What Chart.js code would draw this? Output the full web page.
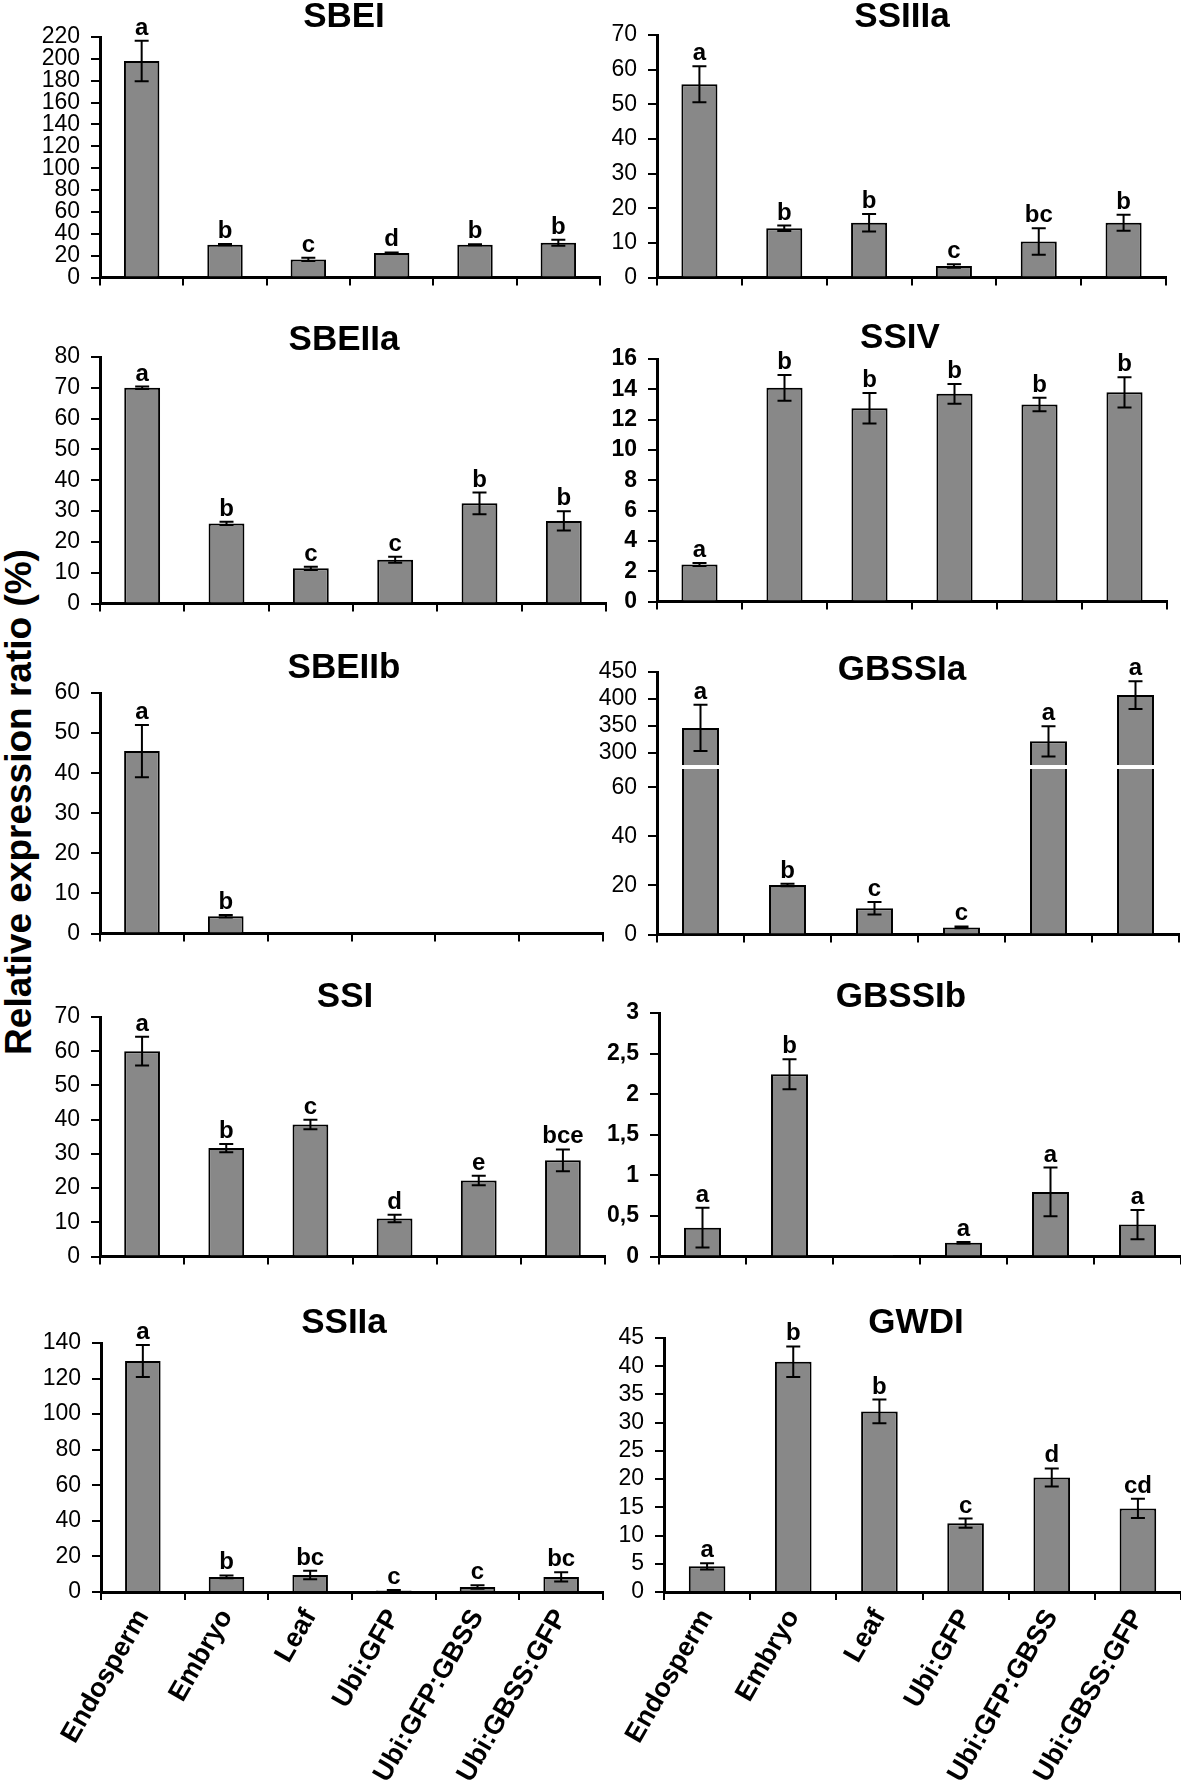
<!DOCTYPE html>
<html>
<head>
<meta charset="utf-8">
<script src="https://cdn.jsdelivr.net/npm/chart.js@4.4.1/dist/chart.umd.min.js"></script>
<style>
  html, body { margin: 0; padding: 0; background: #fff; overflow: hidden; }
  #page { position: relative; width: 1181px; height: 1780px; }
  #page canvas { position: absolute; }
  #ytitle {
    position: absolute; left: 18px; top: 802px;
    font: bold 37px "Liberation Sans", Arial, sans-serif;
    line-height: 1; white-space: nowrap; color: #000;
    transform: translate(-50%, -50%) rotate(-90deg);
  }
</style>
</head>
<body>
<div id="page">
  <div id="ytitle">Relative expression ratio (%)</div>
</div>
<script>
const categories = ['Endosperm', 'Embryo', 'Leaf', 'Ubi:GFP', 'Ubi:GFP:GBSS', 'Ubi:GBSS:GFP'];

// values, +/- error and significance letters
const sbeiValues = [198, 30, 16.5, 22.4, 30, 31.8];
const sbeiErrors = [18.5, 0.6, 1.5, 0.5, 0.5, 2.8];
const sbeiLetters = ['a', 'b', 'c', 'd', 'b', 'b'];

const ssiiiaValues = [55.8, 14.2, 15.8, 3.3, 10.4, 15.8];
const ssiiiaErrors = [5.2, 0.8, 2.5, 0.5, 3.8, 2.3];
const ssiiiaLetters = ['a', 'b', 'b', 'c', 'bc', 'b'];

const sbeiiaValues = [70.0, 26.0, 11.4, 14.2, 32.5, 26.8];
const sbeiiaErrors = [0.4, 0.5, 0.5, 1.0, 3.5, 3.1];
const sbeiiaLetters = ['a', 'b', 'c', 'c', 'b', 'b'];

const ssivValues = [2.44, 14.1, 12.75, 13.7, 13.0, 13.8];
const ssivErrors = [0.1, 0.85, 1.0, 0.65, 0.45, 1.0];
const ssivLetters = ['a', 'b', 'b', 'b', 'b', 'b'];

const sbeiibValues = [45.5, 4.3, null, null, null, null];
const sbeiibErrors = [6.5, 0.3, 0, 0, 0, 0];
const sbeiibLetters = ['a', 'b', '', '', '', ''];

const gbssiaValues = [346, 20.2, 10.7, 2.9, 321, 407];
const gbssiaErrors = [43, 0.5, 2.5, 0.4, 28, 26];
const gbssiaLetters = ['a', 'b', 'c', 'c', 'a', 'a'];

const ssiValues = [60.0, 31.7, 38.6, 11.1, 22.2, 28.1];
const ssiErrors = [4.2, 1.2, 1.4, 1.1, 1.4, 3.2];
const ssiLetters = ['a', 'b', 'c', 'd', 'e', 'bce'];

const gbssibValues = [0.355, 2.245, 0.005, 0.17, 0.795, 0.393];
const gbssibErrors = [0.245, 0.185, 0, 0.01, 0.3, 0.18];
const gbssibLetters = ['a', 'b', '', 'a', 'a', 'a'];

const ssiiaValues = [129.9, 8.5, 9.6, 0.8, 2.8, 8.5];
const ssiiaErrors = [9, 0.8, 2.4, 0.3, 1.0, 2.6];
const ssiiaLetters = ['a', 'b', 'bc', 'c', 'c', 'bc'];

const gwdiValues = [4.55, 40.8, 32.0, 12.2, 20.3, 14.8];
const gwdiErrors = [0.55, 2.7, 2.1, 0.8, 1.6, 1.7];
const gwdiLetters = ['a', 'b', 'b', 'c', 'd', 'cd'];

const FONT = '"Liberation Sans", Arial, Helvetica, sans-serif';
const BAR = '#888888';

// error bars, letters and panel title
const barMarks = {
  id: 'barMarks',
  afterDatasetsDraw(chart, args, opts) {
    const ctx = chart.ctx;
    ctx.save();
    chart.data.datasets.forEach((ds, i) => {
      const meta = chart.getDatasetMeta(i);
      const ys = meta.yScale;
      meta.data.forEach((bar, j) => {
        const v = ds.data[j];
        if (v == null || v > ys.max || v < ys.min) return;
        const e = ds.errors[j] || 0;
        let top = ys.getPixelForValue(v);
        if (e > 0) {
          const y1 = ys.getPixelForValue(v + e);
          const y2 = ys.getPixelForValue(Math.max(v - e, 0));
          ctx.strokeStyle = '#000';
          ctx.lineWidth = 2;
          ctx.beginPath();
          ctx.moveTo(bar.x, y1); ctx.lineTo(bar.x, y2);
          ctx.moveTo(bar.x - 7, y1); ctx.lineTo(bar.x + 7, y1);
          ctx.moveTo(bar.x - 7, y2); ctx.lineTo(bar.x + 7, y2);
          ctx.stroke();
          top = Math.min(top, y1);
        }
        const t = ds.letters[j];
        if (t) {
          ctx.fillStyle = '#000';
          ctx.font = 'bold 24px ' + FONT;
          ctx.textAlign = 'center';
          ctx.textBaseline = 'alphabetic';
          ctx.fillText(t, bar.x, top - 6);
        }
      });
    });
    ctx.fillStyle = '#000';
    ctx.font = 'bold 35px ' + FONT;
    ctx.textAlign = 'center';
    ctx.textBaseline = 'alphabetic';
    ctx.fillText(opts.text, opts.x, opts.y);
    ctx.restore();
  }
};

const LEFT = {x: 30, w: 590};
const RIGHT = {x: 590, w: 591};

const panels = [
  {title: 'SBEI', values: sbeiValues, errors: sbeiErrors, letters: sbeiLetters, max: 220, step: 20,
   col: LEFT, axisX: 100, axisEnd: 600, yTop: 37, yZero: 286, cTop: 0, titleX: 344, titleBase: 27},
  {title: 'SSIIIa', values: ssiiiaValues, errors: ssiiiaErrors, letters: ssiiiaLetters, max: 70, step: 10,
   col: RIGHT, axisX: 657, axisEnd: 1166, yTop: 35, yZero: 286, cTop: 0, titleX: 902, titleBase: 27},
  {title: 'SBEIIa', values: sbeiiaValues, errors: sbeiiaErrors, letters: sbeiiaLetters, max: 80, step: 10,
   col: LEFT, axisX: 100, axisEnd: 606, yTop: 357, yZero: 612, cTop: 305, titleX: 344, titleBase: 350},
  {title: 'SSIV', values: ssivValues, errors: ssivErrors, letters: ssivLetters, max: 16, step: 2, boldTicks: true,
   col: RIGHT, axisX: 657, axisEnd: 1167, yTop: 359, yZero: 610, cTop: 305, titleX: 900, titleBase: 348},
  {title: 'SBEIIb', values: sbeiibValues, errors: sbeiibErrors, letters: sbeiibLetters, max: 60, step: 10,
   col: LEFT, axisX: 100, axisEnd: 603, yTop: 693, yZero: 942, cTop: 630, titleX: 344, titleBase: 678},
  {title: 'GBSSIa', values: gbssiaValues, errors: gbssiaErrors, letters: gbssiaLetters,
   broken: {lowMax: 69.1, highMin: 277, highMax: 450, breakY: 768, gap: 4},
   col: RIGHT, axisX: 657, axisEnd: 1179, yTop: 672, yZero: 943, cTop: 630, titleX: 902, titleBase: 680},
  {title: 'SSI', values: ssiValues, errors: ssiErrors, letters: ssiLetters, max: 70, step: 10,
   col: LEFT, axisX: 100, axisEnd: 605, yTop: 1017, yZero: 1265, cTop: 960, titleX: 345, titleBase: 1007},
  {title: 'GBSSIb', values: gbssibValues, errors: gbssibErrors, letters: gbssibLetters, max: 3, step: 0.5, boldTicks: true, comma: true,
   col: RIGHT, axisX: 659, axisEnd: 1181, yTop: 1013, yZero: 1265, cTop: 960, titleX: 901, titleBase: 1007},
  {title: 'SSIIa', values: ssiiaValues, errors: ssiiaErrors, letters: ssiiaLetters, max: 140, step: 20, bottom: true,
   col: LEFT, axisX: 101, axisEnd: 603, yTop: 1343, yZero: 1592, cTop: 1290, titleX: 344, titleBase: 1333},
  {title: 'GWDI', values: gwdiValues, errors: gwdiErrors, letters: gwdiLetters, max: 45, step: 5, bottom: true,
   col: RIGHT, axisX: 664, axisEnd: 1181, yTop: 1338, yZero: 1592, cTop: 1290, titleX: 916, titleBase: 1333}
];

function yAxis(p, extra) {
  return Object.assign({
    position: 'left',
    ticks: {
      stepSize: p.step, autoSkip: false, color: '#000', padding: 11,
      font: {family: FONT, size: 23, weight: p.boldTicks ? 'bold' : 'normal', lineHeight: 1},
      callback: v => p.comma ? String(v).replace('.', ',') : v
    },
    grid: {drawOnChartArea: false, drawTicks: true, tickLength: 9, color: '#000', lineWidth: 2},
    border: {color: '#000', width: 3},
    afterFit: s => { s.width = p.axisX - p.col.x; }
  }, extra);
}

function buildPanel(p) {
  const xH = p.bottom ? 1780 - p.yZero : 14;
  const h = p.yZero + xH - p.cTop;
  const canvas = document.createElement('canvas');
  canvas.width = p.col.w;
  canvas.height = h;
  canvas.style.left = p.col.x + 'px';
  canvas.style.top = p.cTop + 'px';
  canvas.style.width = p.col.w + 'px';
  canvas.style.height = h + 'px';
  document.getElementById('page').appendChild(canvas);

  const barStyle = {
    backgroundColor: BAR, borderColor: '#000', borderWidth: 2,
    barPercentage: 0.425, categoryPercentage: 1, grouped: false
  };

  let datasets, scales = {};
  scales.x = {
    offset: true,
    grid: {offset: true, drawOnChartArea: false, drawTicks: true, tickLength: 8, color: '#000', lineWidth: 2},
    border: {color: '#000', width: 3},
    ticks: p.bottom
      ? {color: '#000', font: {family: FONT, size: 27, weight: 'bold'}, minRotation: 60, maxRotation: 60, autoSkip: false, padding: 4}
      : {display: false},
    afterFit: s => { s.height = xH; }
  };

  if (p.broken) {
    // broken axis: two stacked y scales, each dataset clipped to its own scale area
    const b = p.broken;
    const highH = b.breakY - p.yTop;
    const lowH = p.yZero - b.breakY;
    datasets = [
      Object.assign({data: p.values, errors: p.errors, letters: p.letters, yAxisID: 'yLow',
        clip: {left: 5, right: 5, top: -b.gap, bottom: 5}}, barStyle),
      Object.assign({data: p.values, errors: p.errors, letters: p.letters, yAxisID: 'yHigh',
        clip: {left: 5, right: 5, top: 5, bottom: 0}}, barStyle)
    ];
    scales.yLow = yAxis(Object.assign({}, p, {step: 20}), {
      min: 0, max: b.lowMax, stack: 'gbss', stackWeight: lowH
    });
    scales.yLow.ticks.includeBounds = false;
    scales.yHigh = yAxis(Object.assign({}, p, {step: 50}), {
      min: b.highMin, max: b.highMax, stack: 'gbss', stackWeight: highH
    });
    scales.yHigh.ticks.includeBounds = false;
  } else {
    datasets = [Object.assign({data: p.values, errors: p.errors, letters: p.letters}, barStyle)];
    scales.y = yAxis(p, {min: 0, max: p.max});
  }

  new Chart(canvas, {
    type: 'bar',
    data: {labels: categories, datasets: datasets},
    options: {
      responsive: false,
      animation: false,
      devicePixelRatio: 1,
      layout: {padding: {left: 0, right: p.col.x + p.col.w - p.axisEnd, top: p.yTop - p.cTop, bottom: 0}},
      plugins: {
        legend: {display: false},
        tooltip: {enabled: false},
        title: {display: false},
        barMarks: {text: p.title, x: p.titleX - p.col.x, y: p.titleBase - p.cTop}
      },
      scales: scales
    },
    plugins: [barMarks]
  });
}

panels.forEach(buildPanel);
</script>
</body>
</html>
